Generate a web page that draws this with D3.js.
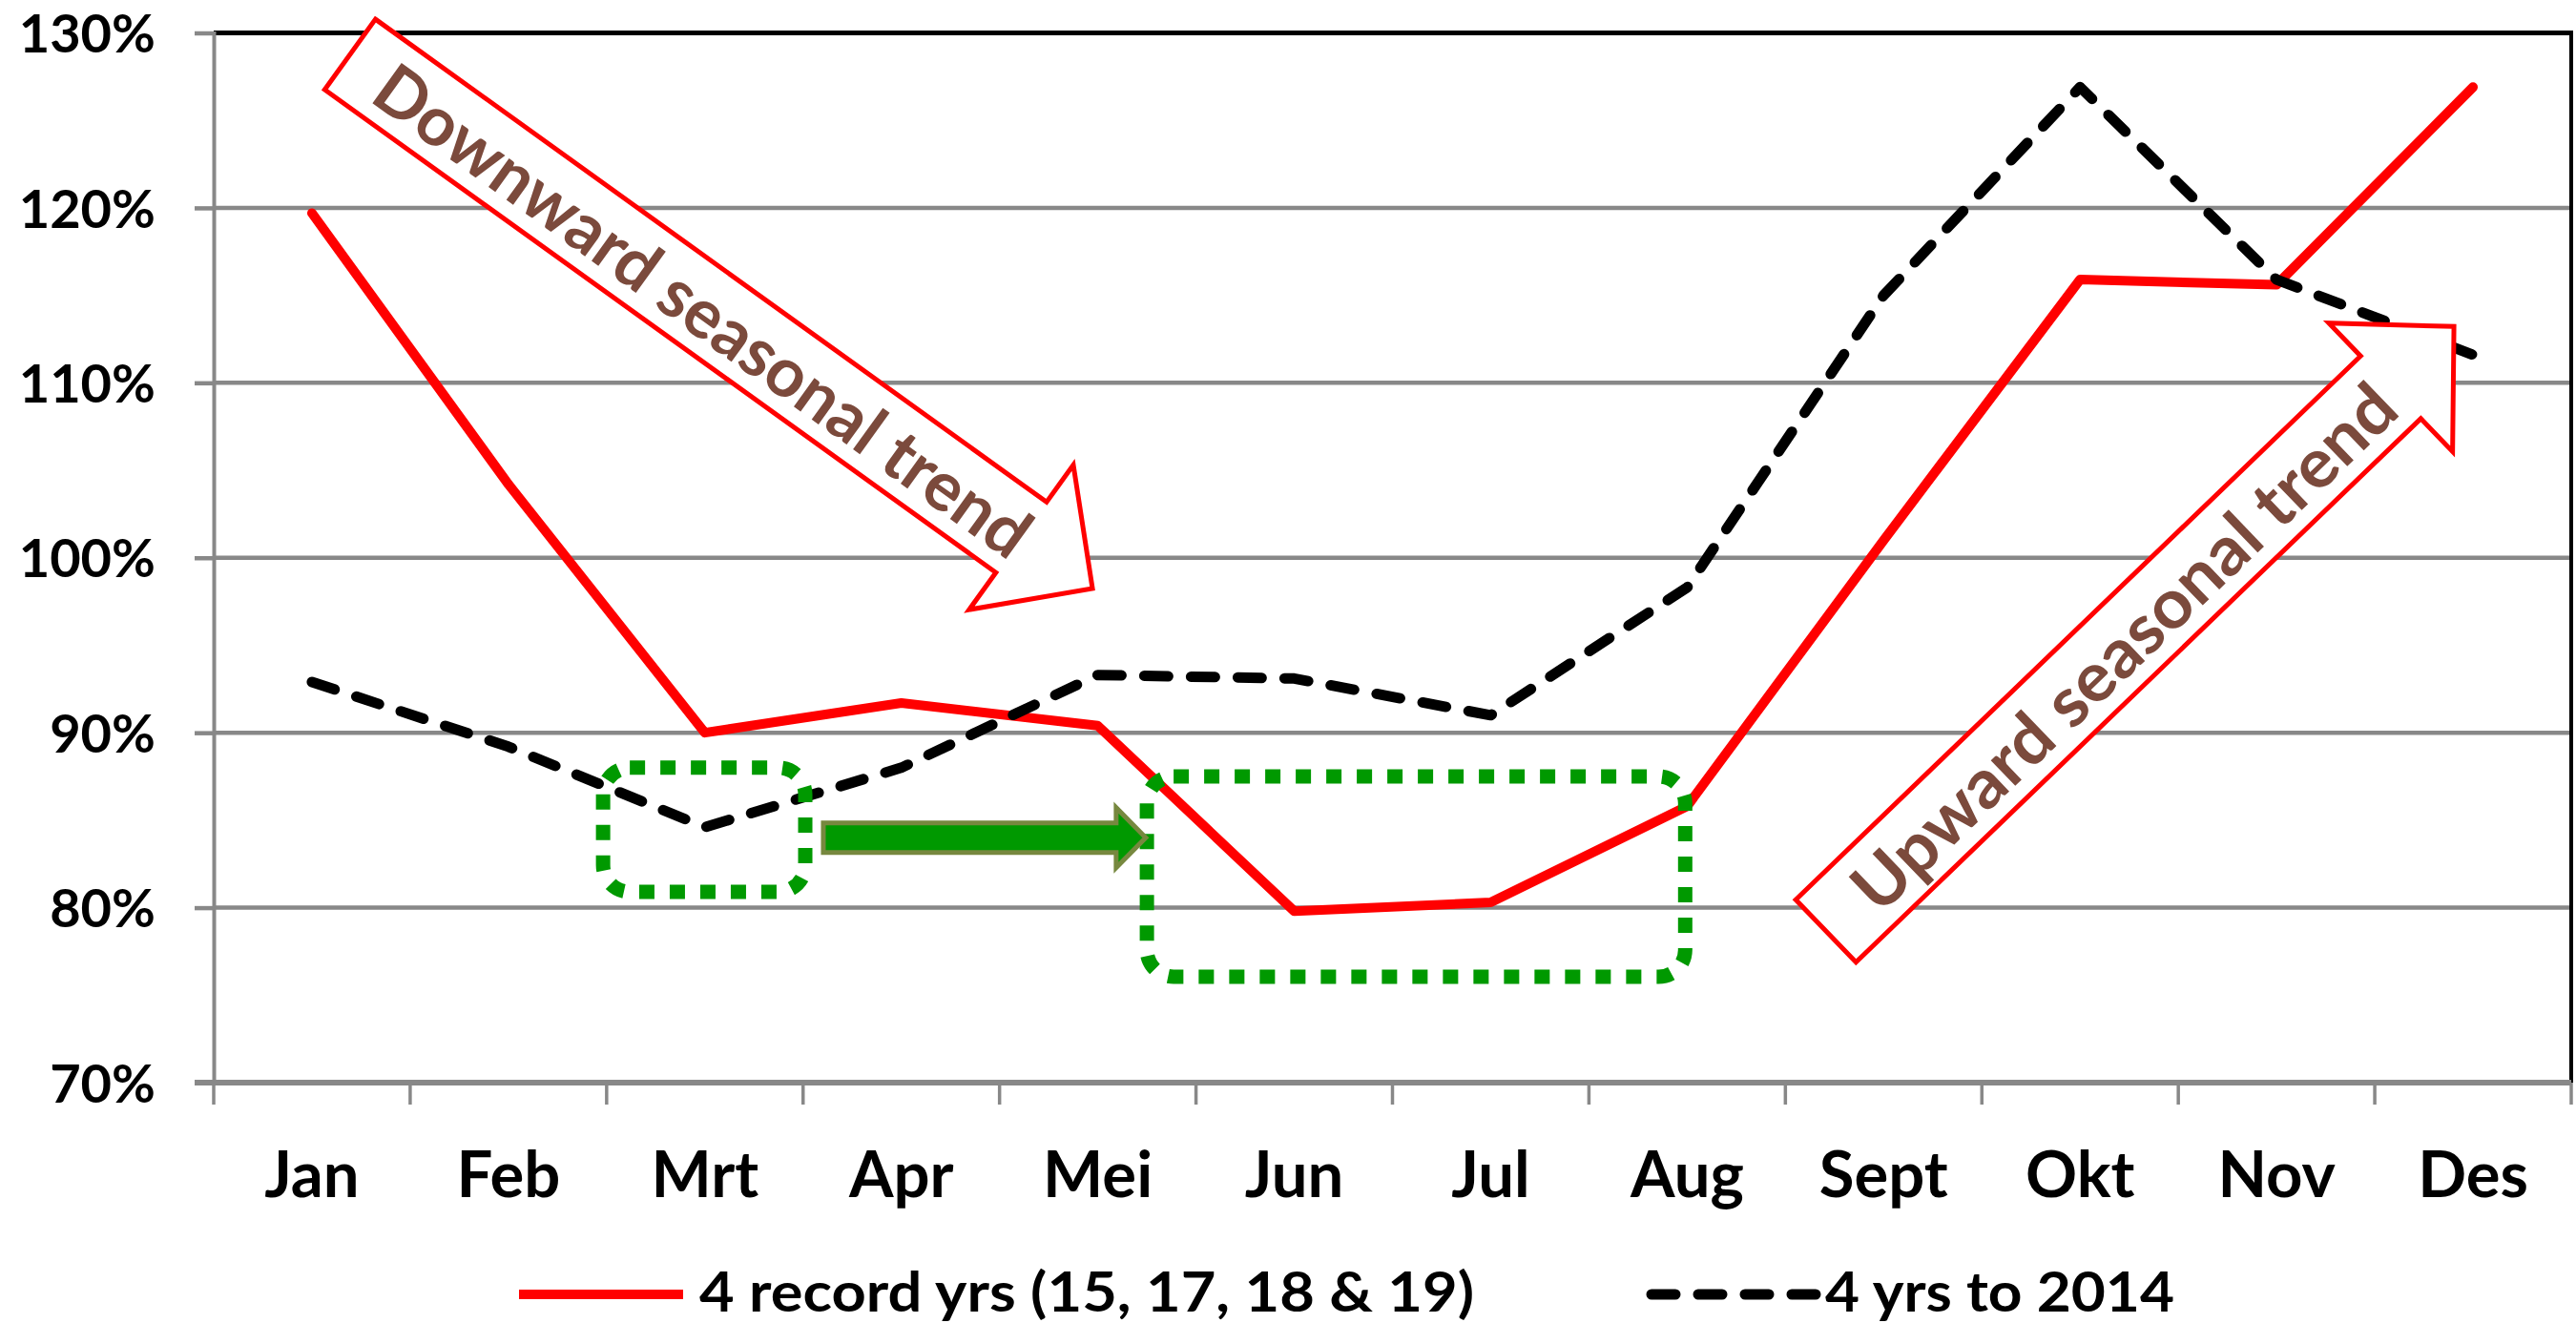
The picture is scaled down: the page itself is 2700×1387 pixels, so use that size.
<!DOCTYPE html>
<html>
<head>
<meta charset="utf-8">
<script src="https://cdn.jsdelivr.net/npm/d3@7"></script>
<style>
  html, body { margin: 0; padding: 0; background: #ffffff; }
  svg { display: block; }
  text { font-family: Lato, "Open Sans", "Liberation Sans", sans-serif; font-weight: bold; }
</style>
</head>
<body>
<svg id="chart" width="2700" height="1387"></svg>
<script>
// ---------------- DATA ----------------
const months = ["Jan","Feb","Mrt","Apr","Mei","Jun","Jul","Aug","Sept","Okt","Nov","Des"];
const recordYears = [119.7, 104.2, 90.0, 91.7, 90.4, 79.8, 80.3, 85.8, 101.0, 115.9, 115.6, 126.9];
const yearsTo2014 = [92.9, 89.2, 84.6, 88.0, 93.3, 93.1, 91.0, 98.3, 115.0, 126.9, 115.9, 111.6];
const yTicks = [70, 80, 90, 100, 110, 120, 130];
const seriesNames = ["4 record yrs (15, 17, 18 & 19)", "4 yrs to 2014"];
const annotationTexts = ["Downward seasonal trend", "Upward seasonal trend"];

// Annotations in data units (month-index position, percent value)
const trendArrows = [
  { tail: [0.694, 128.77], tip: [4.473, 98.24], textPos: 0.477, textLen: 828, label: annotationTexts[0] },
  { tail: [8.206, 78.67], tip: [11.403, 113.22], textPos: 0.472, textLen: 760, label: annotationTexts[1] }
];
const greenBoxes = [
  { x0: 1.982, x1: 3.011, v0: 88.0, v1: 80.9 },
  { x0: 4.75, x1: 7.49, v0: 87.5, v1: 76.05 }
];
const greenArrow = { x0: 3.103, x1: 4.744, v: 84.0 };

// ---------------- LAYOUT ----------------
const W = 2700, H = 1387;
const plot = { left: 224, right: 2695, top: 34.5, bottom: 1135 };

const svg = d3.select("#chart");

const x = d3.scaleBand().domain(months).range([plot.left, plot.right]).padding(0);
const xIdx = d3.scaleLinear().domain([0, months.length]).range([plot.left, plot.right]);
const y = d3.scaleLinear().domain([70, 130]).range([plot.bottom, plot.top]);
const cx = m => x(m) + x.bandwidth() / 2;

// Gridlines
svg.append("g").selectAll("line")
  .data(yTicks.filter(t => t > 70 && t < 130))
  .join("line")
  .attr("x1", plot.left).attr("x2", plot.right)
  .attr("y1", d => y(d)).attr("y2", d => y(d))
  .attr("stroke", "#888888").attr("stroke-width", 4.5);

// Plot border top + right (black)
svg.append("line")
  .attr("x1", plot.left).attr("x2", plot.right + 2)
  .attr("y1", y(130)).attr("y2", y(130))
  .attr("stroke", "#000").attr("stroke-width", 5);
svg.append("line")
  .attr("x1", plot.right).attr("x2", plot.right)
  .attr("y1", y(130)).attr("y2", y(70))
  .attr("stroke", "#000").attr("stroke-width", 4);

// Y axis
const yAxis = d3.axisLeft(y).tickValues(yTicks).tickSize(20).tickPadding(41)
  .tickFormat(d => d + "%");
const gy = svg.append("g").attr("transform", `translate(${plot.left},0)`).call(yAxis);
gy.select(".domain").attr("stroke", "#888888").attr("stroke-width", 4);
gy.selectAll(".tick line").attr("stroke", "#888888").attr("stroke-width", 4.5);
gy.selectAll(".tick text")
  .attr("fill", "#000").attr("font-size", 56).attr("font-family", "Lato, sans-serif")
  .attr("font-weight", "bold").attr("dy", "0.36em");

// X axis (ticks at band boundaries)
const gx = svg.append("g").attr("transform", `translate(0,${plot.bottom})`);
gx.append("line").attr("x1", plot.left - 20).attr("x2", plot.right)
  .attr("y1", 0).attr("y2", 0).attr("stroke", "#888888").attr("stroke-width", 6);
gx.selectAll("line.tk")
  .data(d3.range(months.length + 1))
  .join("line").attr("class", "tk")
  .attr("x1", d => xIdx(d)).attr("x2", d => xIdx(d))
  .attr("y1", 0).attr("y2", 23)
  .attr("stroke", "#888888").attr("stroke-width", 3.5);
gx.selectAll("text")
  .data(months)
  .join("text")
  .attr("x", d => cx(d)).attr("y", 120)
  .attr("text-anchor", "middle")
  .attr("font-size", 67).attr("fill", "#000")
  .text(d => d);

// Lines
const line = d3.line().x((d, i) => cx(months[i])).y(d => y(d));
svg.append("path").datum(recordYears)
  .attr("d", line).attr("fill", "none")
  .attr("stroke", "#ff0000").attr("stroke-width", 10)
  .attr("stroke-linejoin", "round").attr("stroke-linecap", "round");
svg.append("path").datum(yearsTo2014)
  .attr("d", line).attr("fill", "none")
  .attr("stroke", "#000").attr("stroke-width", 11)
  .attr("stroke-dasharray", "25 24")
  .attr("stroke-linejoin", "round").attr("stroke-linecap", "round");

// Green dotted boxes
svg.append("g").selectAll("rect")
  .data(greenBoxes)
  .join("rect")
  .attr("x", d => xIdx(d.x0)).attr("y", d => y(d.v0))
  .attr("width", d => xIdx(d.x1) - xIdx(d.x0))
  .attr("height", d => y(d.v1) - y(d.v0))
  .attr("rx", 28).attr("ry", 28)
  .attr("fill", "none").attr("stroke", "#009900")
  .attr("stroke-width", 15).attr("stroke-dasharray", "16 16");

// Green block arrow
(function () {
  const x0 = xIdx(greenArrow.x0), x1 = xIdx(greenArrow.x1), yc = y(greenArrow.v);
  const sh = 15.5, hh = 31.5, hl = 31;
  const pts = [[x0, yc - sh], [x1 - hl, yc - sh], [x1 - hl, yc - hh], [x1, yc],
               [x1 - hl, yc + hh], [x1 - hl, yc + sh], [x0, yc + sh]];
  svg.append("path").attr("d", "M" + pts.join("L") + "Z")
    .attr("fill", "#009900").attr("stroke", "#77883f").attr("stroke-width", 5)
    .attr("stroke-linejoin", "miter");
})();

// Trend block arrows with text
trendArrows.forEach(a => {
  const tx = xIdx(a.tail[0]), ty = y(a.tail[1]);
  const px = xIdx(a.tip[0]), py = y(a.tip[1]);
  const len = Math.hypot(px - tx, py - ty);
  const ang = Math.atan2(py - ty, px - tx) * 180 / Math.PI;
  const sh = 45.5, hh = 93.5, hl = 92;
  const g = svg.append("g").attr("transform", `translate(${tx},${ty}) rotate(${ang})`);
  const pts = [[0, -sh], [len - hl, -sh], [len - hl, -hh], [len, 0],
               [len - hl, hh], [len - hl, sh], [0, sh]];
  g.append("path").attr("d", "M" + pts.join("L") + "Z")
    .attr("fill", "#ffffff").attr("stroke", "#ff0000").attr("stroke-width", 5)
    .attr("stroke-linejoin", "miter");
  g.append("text")
    .attr("x", len * a.textPos).attr("y", 28)
    .attr("text-anchor", "middle")
    .attr("font-size", 72).attr("fill", "#7b4a3c")
    .attr("textLength", a.textLen).attr("lengthAdjust", "spacingAndGlyphs")
    .text(a.label);
});

// Legend
const lg = svg.append("g");
lg.append("line").attr("x1", 544).attr("x2", 716).attr("y1", 1357).attr("y2", 1357)
  .attr("stroke", "#ff0000").attr("stroke-width", 10);
lg.append("text").attr("x", 733).attr("y", 1375).attr("font-size", 58).attr("fill", "#000")
  .attr("textLength", 812).attr("lengthAdjust", "spacingAndGlyphs")
  .text(seriesNames[0]);
lg.append("line").attr("x1", 1731).attr("x2", 1905).attr("y1", 1357).attr("y2", 1357)
  .attr("stroke", "#000").attr("stroke-width", 11)
  .attr("stroke-dasharray", "25 24").attr("stroke-linecap", "round");
lg.append("text").attr("x", 1913).attr("y", 1375).attr("font-size", 58).attr("fill", "#000")
  .attr("textLength", 366).attr("lengthAdjust", "spacingAndGlyphs")
  .text(seriesNames[1]);
</script>
</body>
</html>
